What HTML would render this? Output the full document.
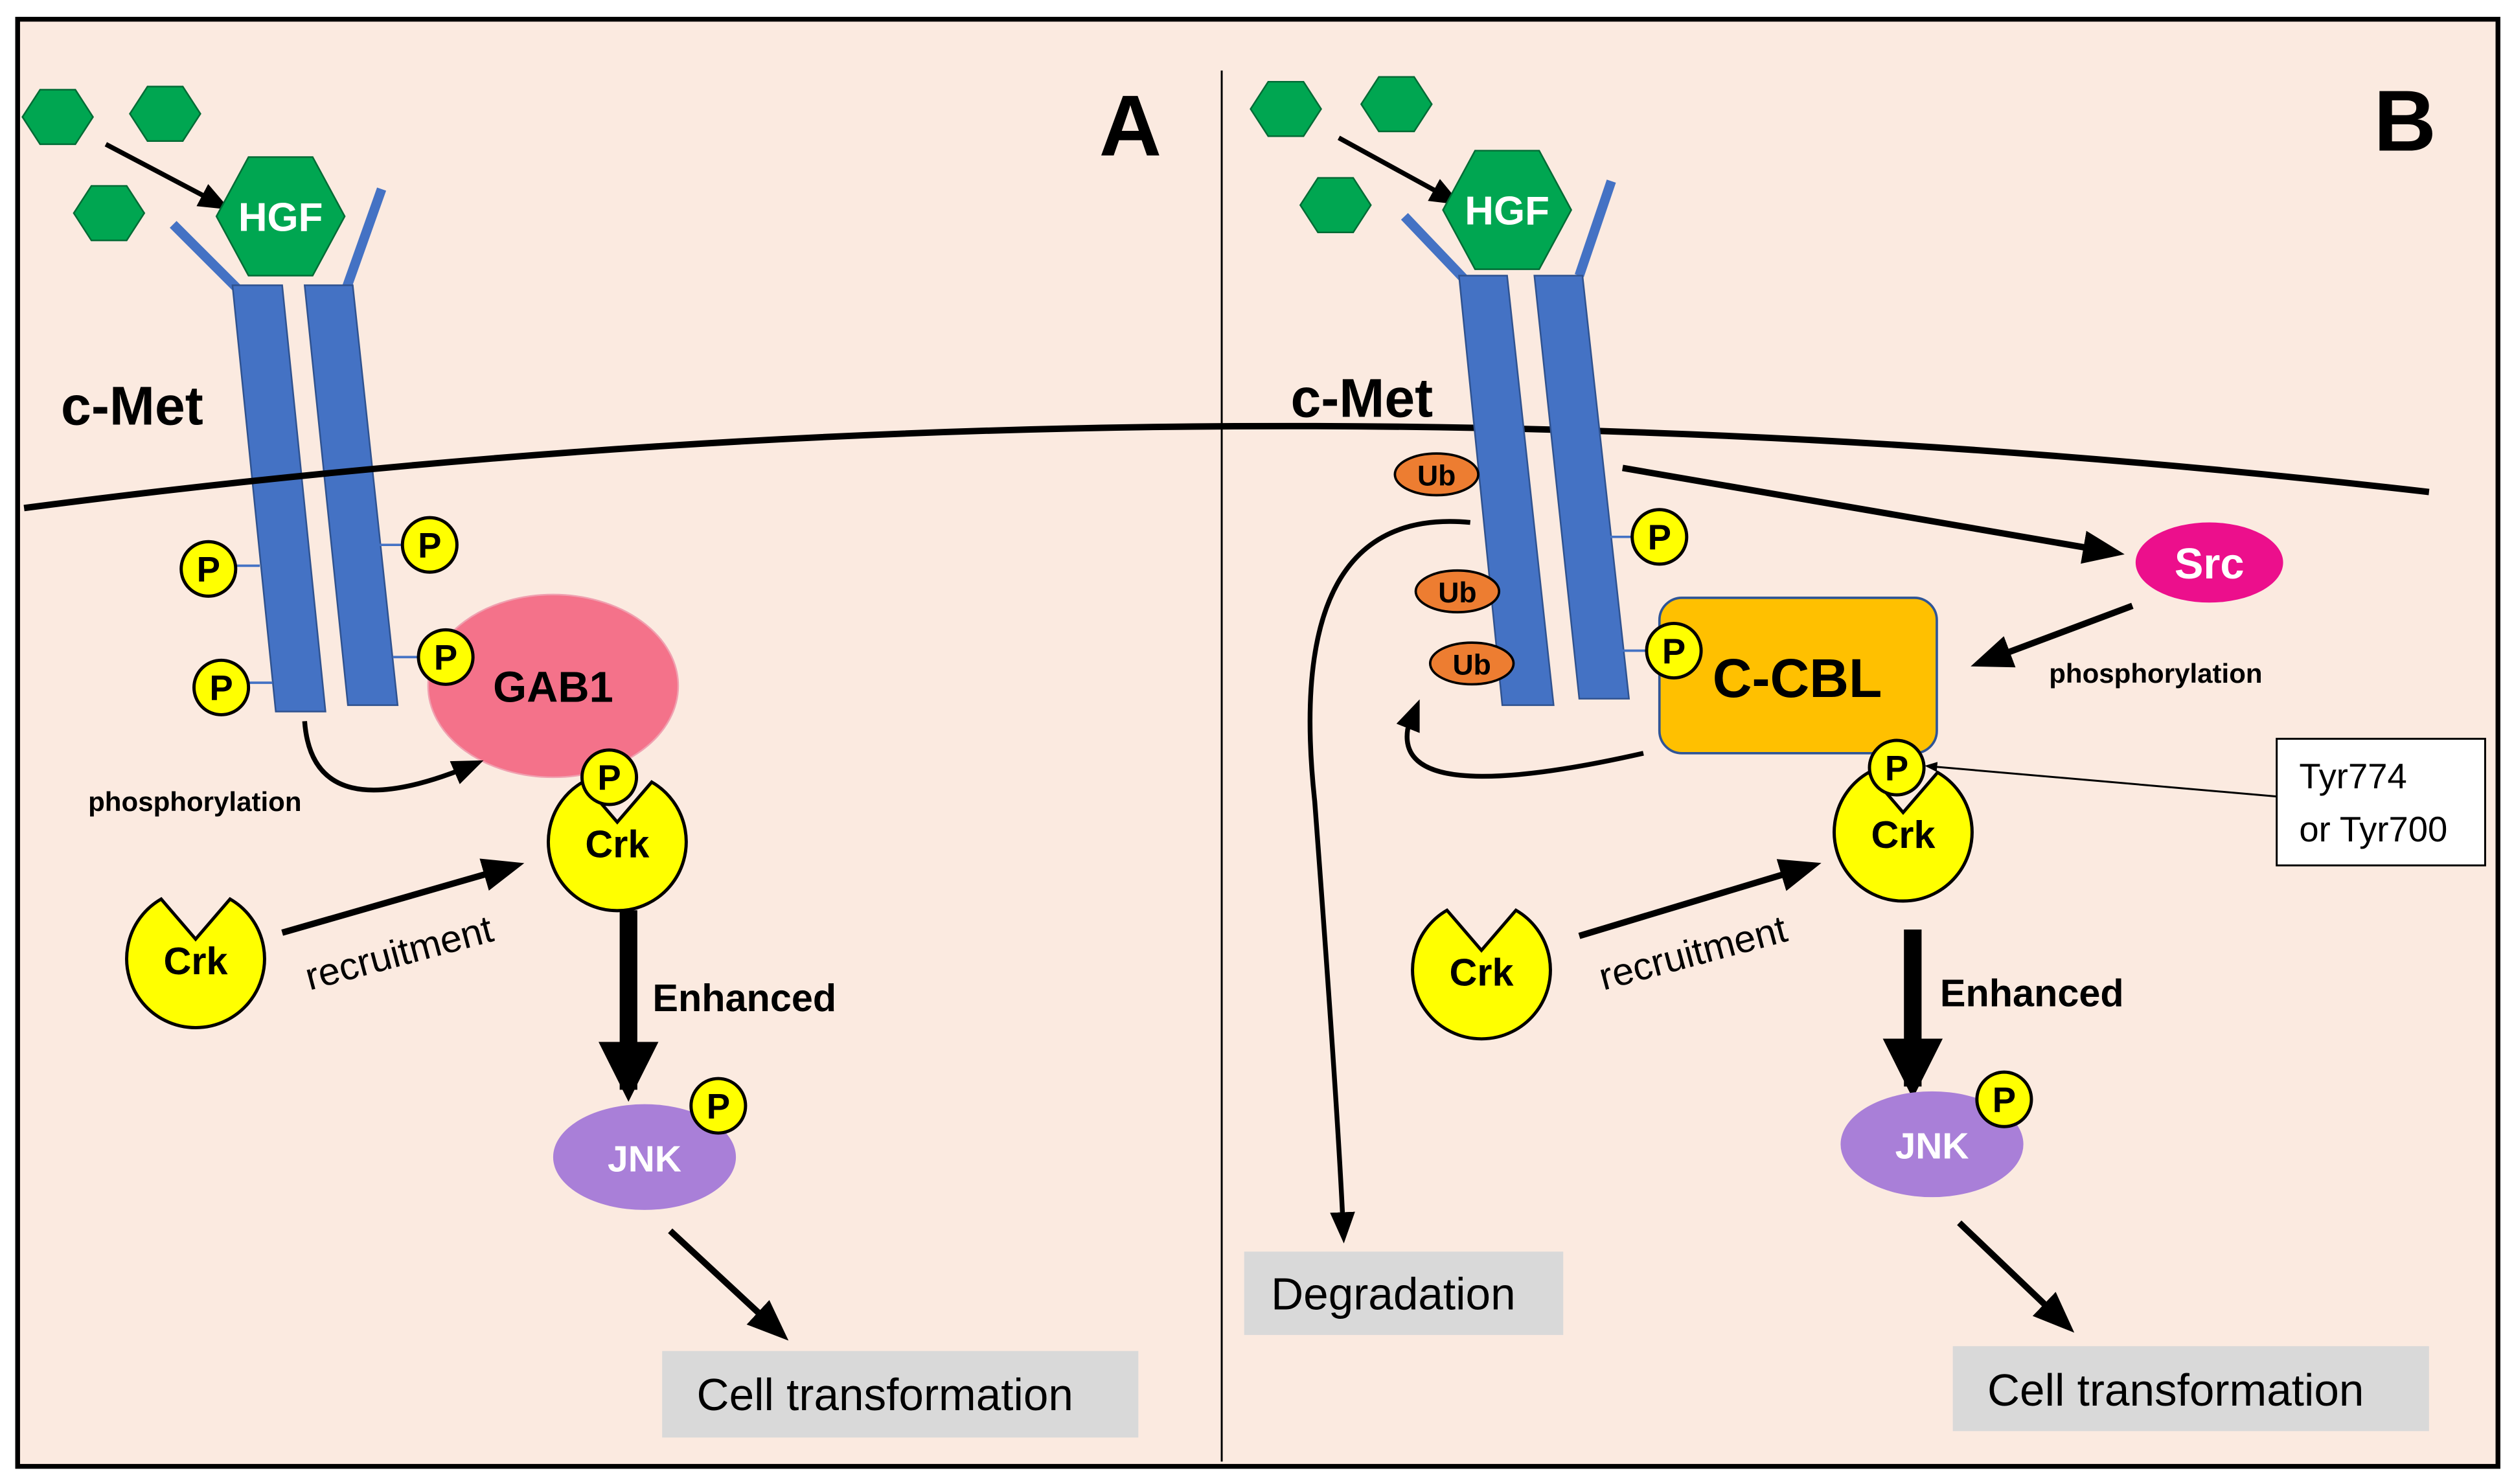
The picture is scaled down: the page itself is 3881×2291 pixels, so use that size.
<!DOCTYPE html>
<html><head><meta charset="utf-8"><style>
html,body{margin:0;padding:0;background:#fff;}
svg{display:block;}
text{font-family:"Liberation Sans",sans-serif;}
</style></head><body>
<svg width="3881" height="2291" viewBox="0 0 1568 926" preserveAspectRatio="none" xmlns="http://www.w3.org/2000/svg">
<defs>
<marker id="ah" viewBox="0 0 10 10" refX="8" refY="5" markerWidth="3.4" markerHeight="3.4" orient="auto"><path d="M0,0 L10,5 L0,10 z" fill="#000"/></marker>
<marker id="ahs" viewBox="0 0 10 10" refX="8" refY="5" markerWidth="6.5" markerHeight="6.5" orient="auto"><path d="M0,1 L10,5 L0,9 z" fill="#000"/></marker>
<g id="hex"><polygon points="-22,0 -11,-17 11,-17 22,0 11,17 -11,17" fill="#00a651" stroke="#006b35" stroke-width="1"/></g>
<g id="bighex"><polygon points="-40,0 -20,-37 20,-37 40,0 20,37 -20,37" fill="#00a651" stroke="#006b35" stroke-width="1"/></g>
<g id="P"><circle r="17" fill="#ffff00" stroke="#000" stroke-width="2"/><text y="8" text-anchor="middle" font-size="22" font-weight="bold">P</text></g>
<g id="crk"><path d="M0,-12 L-21.5,-37 A43,43 0 1 0 21.5,-37 Z" fill="#ffff00" stroke="#000" stroke-width="2"/><text y="10" text-anchor="middle" font-size="24" font-weight="bold">Crk</text></g>
</defs>
<rect x="0" y="0" width="1568" height="926" fill="#fff"/>
<rect x="11" y="12" width="1547" height="903" fill="#fbeae0" stroke="#000" stroke-width="3"/>
<line x1="762" y1="44" x2="762" y2="912" stroke="#000" stroke-width="1.2"/>

<!-- Panel A -->
<use href="#hex" x="36" y="73"/><use href="#hex" x="103" y="71"/><use href="#hex" x="68" y="133"/>
<line x1="66" y1="90" x2="140" y2="129" stroke="#000" stroke-width="3" marker-end="url(#ahs)"/>
<line x1="150" y1="182" x2="108" y2="140" stroke="#4472c4" stroke-width="6"/>
<line x1="216" y1="180" x2="238" y2="118" stroke="#4472c4" stroke-width="6"/>
<use href="#bighex" x="175" y="135"/>
<text x="175" y="144" text-anchor="middle" font-size="25" font-weight="bold" fill="#fff">HGF</text>
<polygon points="145,178 176,178 203,444 172,444" fill="#4472c4" stroke="#2f528f" stroke-width="1"/>
<polygon points="190,178 220,178 248,440 217,440" fill="#4472c4" stroke="#2f528f" stroke-width="1"/>
<path d="M15,317 Q760,220 1515,307" fill="none" stroke="#000" stroke-width="4"/>
<text x="38" y="265" font-size="34" font-weight="bold">c-Met</text>
<line x1="147" y1="353" x2="162" y2="353" stroke="#4472c4" stroke-width="1.5"/>
<line x1="235" y1="340" x2="251" y2="340" stroke="#4472c4" stroke-width="1.5"/>
<line x1="155" y1="426" x2="170" y2="426" stroke="#4472c4" stroke-width="1.5"/>
<line x1="245" y1="410" x2="261" y2="410" stroke="#4472c4" stroke-width="1.5"/>
<ellipse cx="345" cy="428" rx="78" ry="57" fill="#f4728a" stroke="#f0a0b0" stroke-width="1"/>
<text x="345" y="438" text-anchor="middle" font-size="27" font-weight="bold">GAB1</text>
<use href="#P" x="130" y="355"/><use href="#P" x="268" y="340"/><use href="#P" x="138" y="429"/><use href="#P" x="278" y="410"/>
<path d="M190,450 Q195,520 298,476" fill="none" stroke="#000" stroke-width="3" marker-end="url(#ahs)"/>
<text x="55" y="506" font-size="17" font-weight="bold">phosphorylation</text>
<use href="#crk" x="385" y="525"/><use href="#P" x="380" y="485"/>
<use href="#crk" x="122" y="598"/>
<line x1="176" y1="582" x2="322" y2="540" stroke="#000" stroke-width="4" marker-end="url(#ahs)"/>
<text x="0" y="0" font-size="24" transform="translate(193,618) rotate(-15)">recruitment</text>
<line x1="392" y1="568" x2="392" y2="680" stroke="#000" stroke-width="11" marker-end="url(#ah)"/>
<text x="407" y="631" font-size="24" font-weight="bold">Enhanced</text>
<ellipse cx="402" cy="722" rx="57" ry="33" fill="#a97fd8"/>
<text x="402" y="731" text-anchor="middle" font-size="23" font-weight="bold" fill="#fff">JNK</text>
<use href="#P" x="448" y="690"/>
<line x1="418" y1="768" x2="488" y2="833" stroke="#000" stroke-width="4" marker-end="url(#ahs)"/>
<rect x="413" y="843" width="297" height="54" fill="#d9d9d9"/>
<text x="552" y="880" text-anchor="middle" font-size="28">Cell transformation</text>
<text x="705" y="97" text-anchor="middle" font-size="54" font-weight="bold">A</text>

<!-- Panel B -->
<use href="#hex" x="802" y="68"/><use href="#hex" x="871" y="65"/><use href="#hex" x="833" y="128"/>
<line x1="835" y1="86" x2="908" y2="126" stroke="#000" stroke-width="3" marker-end="url(#ahs)"/>
<line x1="916" y1="177" x2="876" y2="135" stroke="#4472c4" stroke-width="6"/>
<line x1="985" y1="172" x2="1005" y2="113" stroke="#4472c4" stroke-width="6"/>
<use href="#bighex" x="940" y="131"/>
<text x="940" y="140" text-anchor="middle" font-size="25" font-weight="bold" fill="#fff">HGF</text>
<polygon points="910,172 940,172 969,440 937,440" fill="#4472c4" stroke="#2f528f" stroke-width="1"/>
<polygon points="957,172 987,172 1016,436 985,436" fill="#4472c4" stroke="#2f528f" stroke-width="1"/>
<text x="805" y="260" font-size="34" font-weight="bold">c-Met</text>
<ellipse cx="896" cy="296" rx="26" ry="13" fill="#ed7d31" stroke="#000" stroke-width="1.5"/>
<text x="896" y="303" text-anchor="middle" font-size="18" font-weight="bold">Ub</text>
<ellipse cx="909" cy="369" rx="26" ry="13" fill="#ed7d31" stroke="#000" stroke-width="1.5"/>
<text x="909" y="376" text-anchor="middle" font-size="18" font-weight="bold">Ub</text>
<ellipse cx="918" cy="414" rx="26" ry="13" fill="#ed7d31" stroke="#000" stroke-width="1.5"/>
<text x="918" y="421" text-anchor="middle" font-size="18" font-weight="bold">Ub</text>
<line x1="1002" y1="335" x2="1018" y2="335" stroke="#4472c4" stroke-width="1.5"/>
<line x1="1012" y1="406" x2="1027" y2="406" stroke="#4472c4" stroke-width="1.5"/>
<use href="#P" x="1035" y="335"/>
<line x1="1012" y1="292" x2="1320" y2="345" stroke="#000" stroke-width="4" marker-end="url(#ahs)"/>
<ellipse cx="1378" cy="351" rx="46" ry="25" fill="#ec0f8c"/>
<text x="1378" y="361" text-anchor="middle" font-size="27" font-weight="bold" fill="#fff">Src</text>
<line x1="1330" y1="378" x2="1234" y2="414" stroke="#000" stroke-width="4" marker-end="url(#ahs)"/>
<text x="1278" y="426" font-size="17" font-weight="bold">phosphorylation</text>
<rect x="1035" y="373" width="173" height="97" rx="14" fill="#ffc000" stroke="#2f5597" stroke-width="1.5"/>
<text x="1121" y="435" text-anchor="middle" font-size="34" font-weight="bold">C-CBL</text>
<use href="#P" x="1044" y="406"/>
<path d="M1025,470 Q870,505 878,455 L884,440" fill="none" stroke="#000" stroke-width="3" marker-end="url(#ahs)"/>
<path d="M917,326 Q800,315 820,500 Q835,700 838,772" fill="none" stroke="#000" stroke-width="3" marker-end="url(#ahs)"/>
<rect x="776" y="781" width="199" height="52" fill="#d9d9d9"/>
<text x="869" y="817" text-anchor="middle" font-size="28">Degradation</text>
<use href="#crk" x="1187" y="519"/><use href="#P" x="1183" y="479"/>
<rect x="1420" y="461" width="130" height="79" fill="#fff" stroke="#000" stroke-width="1.2"/>
<text x="1434" y="492" font-size="22">Tyr774</text>
<text x="1434" y="525" font-size="22">or Tyr700</text>
<line x1="1420" y1="497" x2="1202" y2="478" stroke="#000" stroke-width="1.2" marker-end="url(#ahs)"/>
<use href="#crk" x="924" y="605"/>
<line x1="985" y1="584" x2="1131" y2="540" stroke="#000" stroke-width="4" marker-end="url(#ahs)"/>
<text x="0" y="0" font-size="24" transform="translate(1000,618) rotate(-15)">recruitment</text>
<line x1="1193" y1="580" x2="1193" y2="678" stroke="#000" stroke-width="11" marker-end="url(#ah)"/>
<text x="1210" y="628" font-size="24" font-weight="bold">Enhanced</text>
<ellipse cx="1205" cy="714" rx="57" ry="33" fill="#a97fd8"/>
<text x="1205" y="723" text-anchor="middle" font-size="23" font-weight="bold" fill="#fff">JNK</text>
<use href="#P" x="1250" y="686"/>
<line x1="1222" y1="763" x2="1290" y2="828" stroke="#000" stroke-width="4" marker-end="url(#ahs)"/>
<rect x="1218" y="840" width="297" height="53" fill="#d9d9d9"/>
<text x="1357" y="877" text-anchor="middle" font-size="28">Cell transformation</text>
<text x="1500" y="94" text-anchor="middle" font-size="54" font-weight="bold">B</text>
</svg>
</body></html>
